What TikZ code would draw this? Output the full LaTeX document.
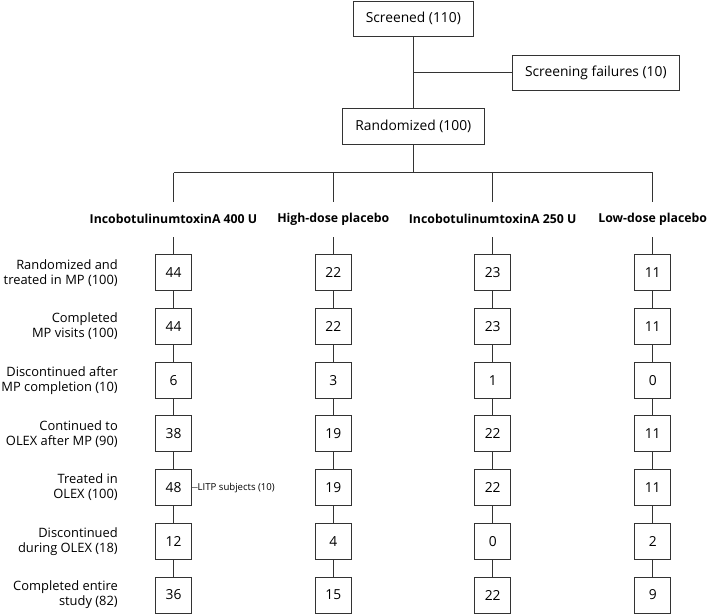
\documentclass[tikz,border=0pt]{standalone}
\usepackage{fontspec}
\setmainfont{Open Sans}
\begin{document}
\begin{tikzpicture}[x=1pt,y=-1pt,
  ln/.style={draw=black!80, line width=0.9pt},
  tbox/.style={draw=black!80, line width=0.9pt, inner sep=0pt, font=\fontsize{13.8}{15}\selectfont},
  nbox/.style={draw=black!80, line width=0.9pt, minimum width=36pt, minimum height=36pt, inner sep=0pt, font=\fontsize{13.8}{15}\selectfont},
  hdr/.style={font=\fontsize{12.3}{14}\selectfont\bfseries, inner sep=0pt},
  lbl/.style={anchor=east, align=right, inner sep=0pt, font=\fontsize{12.9}{15}\selectfont},
  small/.style={anchor=west, inner sep=0pt, font=\fontsize{9.6}{11}\selectfont}]
\useasboundingbox (0,0) rectangle (709,613);
% top part
\node[tbox, minimum width=120pt, minimum height=35pt] (s) at (413.3,18.5) {Screened (110)};
\node[tbox, minimum width=167pt, minimum height=35pt] (f) at (595.8,72.5) {Screening failures (10)};
\node[tbox, minimum width=141.3pt, minimum height=35.7pt] (r) at (413.3,126.2) {Randomized (100)};
\coordinate (j) at (413.3,72.5);
\draw[ln] (s.south) -- (r.north);
\draw[ln] (j) -- (f.west);
\coordinate (b0) at (413.3,172.7);
\draw[ln] (r.south) -- (b0);
% columns
\def\xa{173.5}\def\xb{333.3}\def\xc{492.7}\def\xd{652.7}
\coordinate (c1) at (\xa,172.7);
\coordinate (c4) at (\xd,172.7);
\draw[ln] (c1) -- (c4);
\foreach \i/\x/\t in {1/\xa/{IncobotulinumtoxinA 400 U},2/\xb/{High-dose placebo},3/\xc/{IncobotulinumtoxinA 250 U},4/\xd/{Low-dose placebo}}{
  \coordinate (t\i) at (\x,172.7);
  \coordinate (d\i) at (\x,201.7);
  \draw[ln] (t\i) -- (d\i);
  \node[hdr] (h\i) at (\x,219) {\t};
  \coordinate (e\i) at (\x,237.3);
}
% number boxes
\foreach \i/\x/\vals in {1/\xa/{44,44,6,38,48,12,36},2/\xb/{22,22,3,19,19,4,15},3/\xc/{23,23,1,22,22,0,22},4/\xd/{11,11,0,11,11,2,9}}{
  \foreach \v [count=\k] in \vals {
    \node[nbox] (n\i-\k) at (\x,{272.8+53.7*(\k-1)}) {\v};
  }
  \draw[ln] (e\i) -- (n\i-1.north);
  \foreach \k [evaluate=\k as \kk using int(\k+1)] in {1,...,6}{
    \draw[ln] (n\i-\k.south) -- (n\i-\kk.north);
  }
}
% row labels
\foreach \t [count=\k] in {{Randomized and\\treated in MP (100)},{Completed\\MP visits (100)},{Discontinued after\\MP completion (10)},{Continued to\\OLEX after MP (90)},{Treated in\\OLEX (100)},{Discontinued\\during OLEX (18)},{Completed entire\\study (82)}}{
  \node[lbl] (l\k) at (118,{272.8+53.7*(\k-1)}) {\t};
}
\node[small] (litp) at (197.5,487.6) {LITP subjects (10)};
\draw[ln, line width=0.6pt] (n1-5.east) -- (litp.west);
\end{tikzpicture}
\end{document}
